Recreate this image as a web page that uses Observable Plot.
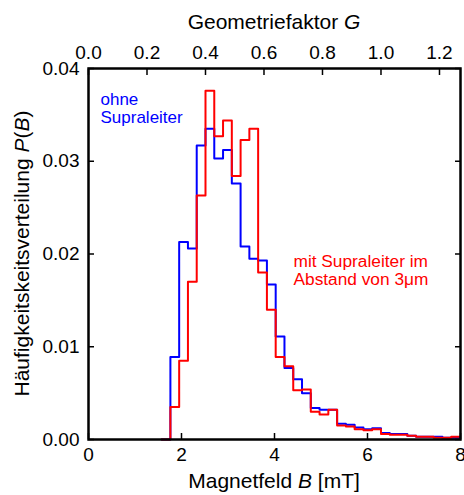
<!DOCTYPE html>
<html><head><meta charset="utf-8">
<script src="https://cdn.jsdelivr.net/npm/d3@7"></script>
<script src="https://cdn.jsdelivr.net/npm/@observablehq/plot@0.6"></script>
<style>
body{margin:0;background:#fff;}
svg{font-family:"Liberation Sans",Arial,Helvetica,sans-serif;}
</style>
</head><body><div id="chart"></div>
<script>
// Bin edges in units of the geometry factor G (bin width 0.03 G); first bin is empty
const binEdgesG = [0.25,0.28,0.31,0.34,0.37,0.40,0.43,0.46,0.49,0.52,0.55,0.58,0.61,0.64,0.67,0.70,0.73,0.76,0.79,0.82,0.85,0.88,0.91,0.94,0.97,1.00,1.03,1.06,1.09,1.12,1.15,1.18,1.21,1.24,1.27];
// P(B) without superconductor (blue)
const ohneSupraleiter = [0,0.0089,0.0213,0.0206,0.0317,0.0335,0.0303,0.0312,0.0276,0.0208,0.0195,0.0193,0.0167,0.0111,0.0077,0.0065,0.0050,0.0034,0.0032,0.0032,0.0017,0.0016,0.0013,0.0011,0.0012,0.0007,0.0006,0.0006,0.0004,0.0003,0.0003,0.0003,0.0002,0.0002];
// P(B) with superconductor at 3 µm distance (red)
const mitSupraleiter = [0,0.0035,0.0085,0.0170,0.0263,0.0376,0.0327,0.0344,0.0284,0.0323,0.0335,0.0180,0.0140,0.0089,0.0079,0.0053,0.0054,0.0030,0.0027,0.0032,0.0015,0.0014,0.0011,0.0010,0.0011,0.0006,0.0005,0.0005,0.0004,0.0003,0.0003,0.0002,0.0002,0.0003];
const bTicks = [0,2,4,6,8];
const gTicks = [0.0,0.2,0.4,0.6,0.8,1.0,1.2];
const pTicks = [0.00,0.01,0.02,0.03,0.04];
const mTperG = 6.29; // Magnetfeld B [mT] per unit of G

function steps(vals){
  const pts = vals.map((v,i)=>({B: binEdgesG[i]*mTperG, P: v}));
  pts.push({B: binEdgesG[vals.length]*mTperG, P: vals[vals.length-1]});
  return pts;
}

const W=464, H=495, mL=88, mR=4, mT=68, mB=56;
const blue="#0000ff", red="#ff0000";

const chart = Plot.plot({
  width: W, height: H,
  marginLeft: mL, marginRight: mR, marginTop: mT, marginBottom: mB,
  style: {fontFamily: '"Liberation Sans", Arial, sans-serif', fontSize: "19px", color: "#000", background: "#fff", overflow: "visible"},
  x: {domain: [0, 8], label: null},
  y: {domain: [0, 0.04], label: null},
  marks: [
    Plot.line(steps(ohneSupraleiter), {x: "B", y: "P", curve: "step-after", stroke: blue, strokeWidth: 2}),
    Plot.line(steps(mitSupraleiter), {x: "B", y: "P", curve: "step-after", stroke: red, strokeWidth: 2}),
    Plot.frame({stroke: "#000", strokeWidth: 2.5}),
    // bottom axis (B)
    Plot.axisX(bTicks, {anchor: "bottom", tickSize: -6, strokeWidth: 1.5, tickFormat: () => "", label: null}),
    Plot.axisX(bTicks, {anchor: "bottom", tickSize: 0, tickPadding: 8, tickFormat: d => String(d), fontSize: 19, label: null}),
    // top axis (G)
    Plot.axisX(gTicks.map(g => g*mTperG), {anchor: "top", tickSize: -6, strokeWidth: 1.5, tickFormat: () => "", label: null}),
    Plot.axisX(gTicks.map(g => g*mTperG), {anchor: "top", tickSize: 0, tickPadding: 10, tickFormat: d => (d/mTperG).toFixed(1), fontSize: 19, label: null}),
    // left / right axis (P)
    Plot.axisY(pTicks, {anchor: "left", tickSize: -6, strokeWidth: 1.5, tickFormat: () => "", label: null}),
    Plot.axisY(pTicks, {anchor: "left", tickSize: 0, tickPadding: 9, tickFormat: d => d.toFixed(2), fontSize: 19, label: null}),
    Plot.axisY(pTicks, {anchor: "right", tickSize: -6, strokeWidth: 1.5, tickFormat: () => "", label: null}),
    // annotations
    Plot.text(["ohne\nSupraleiter"], {frameAnchor: "top-left", dx: 12, dy: 23, textAnchor: "start", lineAnchor: "top", lineHeight: 1.08, fill: blue, fontSize: 17}),
    Plot.text(["mit Supraleiter im\nAbstand von 3μm"], {frameAnchor: "top-left", dx: 205, dy: 185, textAnchor: "start", lineAnchor: "top", lineHeight: 1.06, fill: red, fontSize: 17.3})
  ]
});

const svg = d3.select(chart);
function title(sel, parts){
  parts.forEach(([t, it]) => sel.append("tspan").text(t).attr("font-style", it ? "italic" : null));
}
const cx = mL + (W - mL - mR)/2, cy = mT + (H - mT - mB)/2;
title(svg.append("text").attr("x", cx).attr("y", 487.5).attr("text-anchor", "middle").attr("font-size", 21).attr("fill", "#000"),
  [["Magnetfeld ", false], ["B", true], [" [mT]", false]]);
title(svg.append("text").attr("x", cx).attr("y", 28.5).attr("text-anchor", "middle").attr("font-size", 21).attr("fill", "#000"),
  [["Geometriefaktor ", false], ["G", true]]);
title(svg.append("text").attr("transform", `translate(28.5,${cy}) rotate(-90)`).attr("text-anchor", "middle").attr("font-size", 21).attr("fill", "#000"),
  [["Häufigkeitskeitsverteilung ", false], ["P", true], ["(", false], ["B", true], [")", false]]);

document.getElementById("chart").appendChild(chart);
</script>
</body></html>
